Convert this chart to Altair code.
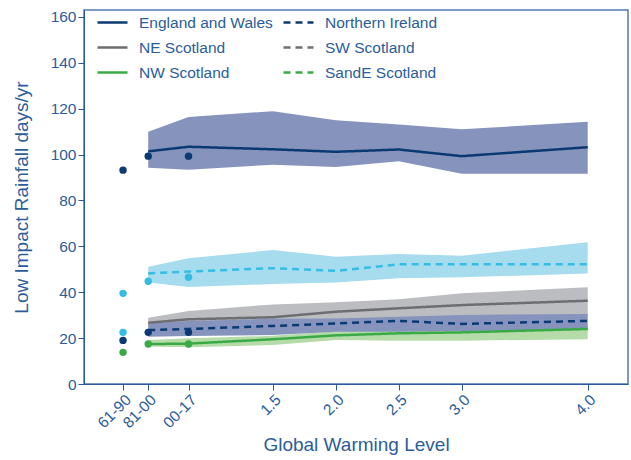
import altair as alt
import pandas as pd

# Global warming level positions (historic baselines placed left of 1.5 degC)
gwl = [0.51, 0.83, 1.5, 2.0, 2.5, 3.0, 4.0]
hist_x = [0.31, 0.51, 0.83]

tick_values = [0.31, 0.51, 0.83, 1.5, 2.0, 2.5, 3.0, 4.0]
tick_labels = ["61-90", "81-00", "00-17", "1.5", "2.0", "2.5", "3.0", "4.0"]

# Projected medians and ranges
ew_mid = [101.4, 103.4, 102.3, 101.2, 102.2, 99.3, 103.2]
ew_lo = [94.3, 93.4, 95.6, 94.6, 97.1, 91.6, 91.6]
ew_hi = [109.9, 116.4, 118.9, 115.0, 113.1, 111.0, 114.3]

sc_mid = [48.2, 49.0, 50.5, 49.3, 52.2, 52.2, 52.2]
sc_lo = [44.2, 42.3, 43.6, 44.2, 46.1, 46.5, 48.2]
sc_hi = [51.1, 54.8, 58.4, 55.5, 56.7, 55.9, 61.8]

ne_mid = [26.7, 28.2, 29.1, 31.5, 33.0, 34.4, 36.3]
ne_lo = [25.5, 26.0, 26.5, 27.0, 28.0, 29.0, 30.0]
ne_hi = [28.9, 31.8, 34.7, 35.6, 36.9, 39.5, 42.2]

ni_mid = [23.5, 24.0, 25.3, 26.4, 27.5, 26.2, 27.5]
ni_lo = [20.6, 20.9, 21.4, 22.8, 22.8, 23.1, 23.5]
ni_hi = [26.5, 27.5, 28.4, 28.6, 29.3, 30.1, 30.5]

nw_mid = [17.4, 17.6, 19.5, 21.2, 22.1, 22.5, 24.0]
nw_lo = [16.3, 16.0, 17.0, 19.2, 18.9, 18.9, 19.5]
nw_hi = [19.2, 19.9, 21.0, 23.0, 23.5, 24.0, 25.0]

# Observed values for the baseline periods
ew_obs = [93.2, 99.3, 99.3]
sc_obs = [39.5, 44.8, 46.5]
ni_obs = [19.0, 22.5, 22.5]
nw_obs = [13.8, 17.4, 17.4]
sc_obs_extra_x = [0.31]
sc_obs_extra = [22.5]

NAVY = "#0b3a73"
GREY = "#6d6e71"
GREEN = "#3aaa48"
CYAN = "#36bde3"
TEXT = "#2c5d9a"
AXIS = "#2a5a9a"
FONT = "Liberation Sans"

# Legend entries are laid out column by column: solid lines first, then dashed
series_keys = ["England and Wales", "NE Scotland", "NW Scotland",
               "Northern Ireland", "SW Scotland", "SandE Scotland", "All Scotland"]
legend_names = series_keys[:6]
line_colors = [NAVY, GREY, GREEN, NAVY, GREY, GREEN, CYAN]
dashes = [[1, 0], [1, 0], [1, 0], [7, 5], [7, 5], [7, 5], [7, 5]]

projections = [
    ("England and Wales", ew_mid, ew_lo, ew_hi, "#8593bd"),
    ("All Scotland", sc_mid, sc_lo, sc_hi, "#a6dcee"),
    ("NE Scotland", ne_mid, ne_lo, ne_hi, "#bcbdc0"),
    ("NW Scotland", nw_mid, nw_lo, nw_hi, "#b5dba8"),
    ("Northern Ireland", ni_mid, ni_lo, ni_hi, "#8593bd"),
]

rows = []
for name, mid, lo, hi, band in projections:
    for x, m, l, h in zip(gwl, mid, lo, hi):
        rows.append({"series": name, "gwl": x, "mid": m, "lo": l, "hi": h, "band": band})
proj = pd.DataFrame(rows)

obs_rows = []
for vals, col in [(ew_obs, NAVY), (sc_obs, CYAN), (ni_obs, NAVY), (nw_obs, GREEN)]:
    for x, v in zip(hist_x, vals):
        obs_rows.append({"gwl": x, "value": v, "col": col})
for x, v in zip(sc_obs_extra_x, sc_obs_extra):
    obs_rows.append({"gwl": x, "value": v, "col": CYAN})
obs = pd.DataFrame(obs_rows)

label_expr = "''"
for v, t in reversed(list(zip(tick_values, tick_labels))):
    label_expr = f"datum.value == {v} ? '{t}' : ({label_expr})"

x_scale = alt.Scale(domain=[0, 4.32], nice=False, zero=False)
y_scale = alt.Scale(domain=[0, 163], nice=False)

x_axis = alt.Axis(
    values=tick_values, labelExpr=label_expr, labelAngle=-45, labelOverlap=False,
    labelFontSize=15.5, labelColor=TEXT, labelFont=FONT,
    tickColor=AXIS, domainColor=AXIS, tickSize=6, grid=False,
    title="Global Warming Level", titleFontSize=19, titleColor=TEXT,
    titleFont=FONT, titleFontWeight="normal", titlePadding=5,
)
y_axis = alt.Axis(
    values=list(range(0, 161, 20)), labelFontSize=15.5, labelColor=TEXT,
    labelFont=FONT, tickColor=AXIS, domainColor=AXIS,
    tickSize=6, grid=False, title="Low Impact Rainfall days/yr",
    titleFontSize=19, titleColor=TEXT, titleFont=FONT,
    titleFontWeight="normal", titlePadding=19,
)

layers = []
for i, (name, *_rest) in enumerate(projections):
    sub = proj[proj["series"] == name]
    if i == 0:
        xe = alt.X("gwl:Q", scale=x_scale, axis=x_axis)
        ye = alt.Y("lo:Q", scale=y_scale, axis=y_axis)
    else:
        xe = alt.X("gwl:Q", scale=x_scale)
        ye = alt.Y("lo:Q", scale=y_scale)
    band = alt.Chart(sub).mark_area(opacity=1).encode(
        x=xe, y=ye, y2="hi:Q",
        fill=alt.Fill("band:N", scale=None),
    )
    layers.append(band)

legend = alt.Legend(
    values=legend_names, title=None, orient="none", legendX=12, legendY=-4,
    columns=2, columnPadding=5, rowPadding=-10, padding=0,
    symbolType="stroke", symbolSize=900, symbolStrokeWidth=2.5,
    labelFontSize=15.5, labelColor=TEXT, labelFont=FONT,
    labelOffset=10, labelLimit=300,
)

lines = alt.Chart(proj).mark_line(strokeWidth=2.5).encode(
    x=alt.X("gwl:Q", scale=x_scale),
    y=alt.Y("mid:Q", scale=y_scale),
    color=alt.Color("series:N", scale=alt.Scale(domain=series_keys, range=line_colors),
                    legend=legend),
    strokeDash=alt.StrokeDash("series:N", scale=alt.Scale(domain=series_keys, range=dashes),
                              legend=legend),
)
layers.append(lines)

points = alt.Chart(obs).mark_circle(size=55, opacity=1).encode(
    x=alt.X("gwl:Q", scale=x_scale),
    y=alt.Y("value:Q", scale=y_scale),
    fill=alt.Fill("col:N", scale=None),
)
layers.append(points)

chart = alt.layer(*layers).properties(
    width=544, height=374,
    autosize=alt.AutoSizeParams(type="none"),
    padding={"left": 84, "top": 10, "right": 3, "bottom": 76},
).configure_view(stroke="#4f7bb5", strokeWidth=1.5)

chart.save("out.html", embed_options={"renderer": "svg", "actions": False})
